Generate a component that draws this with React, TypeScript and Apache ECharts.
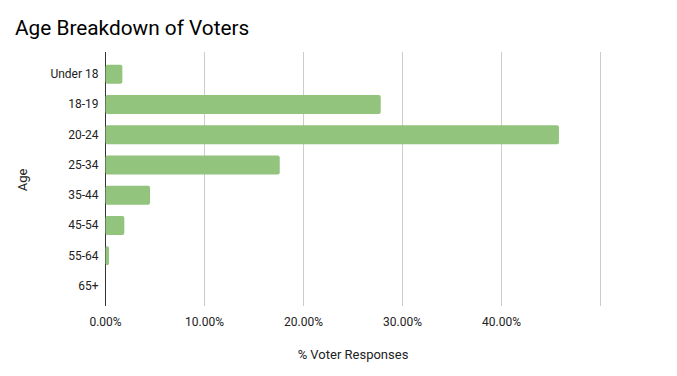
import React, { useEffect, useRef } from "react";
import * as echarts from "echarts";

const title = "Age Breakdown of Voters";
const categories = ["Under 18", "18-19", "20-24", "25-34", "35-44", "45-54", "55-64", "65+"];
const values = [0.017, 0.278, 0.458, 0.176, 0.045, 0.019, 0.0035, 0];
const xTicks = [0, 0.1, 0.2, 0.3, 0.4, 0.5];
const xAxisName = "% Voter Responses";
const yAxisName = "Age";

export default function App() {
  const ref = useRef<HTMLDivElement>(null);
  useEffect(() => {
    const chart = echarts.init(ref.current!, undefined, { renderer: "svg" });
    const font = "Roboto";
    chart.setOption({
      animation: false,
      textStyle: { fontFamily: font },
      title: {
        text: title,
        left: 10,
        top: 12,
        textStyle: { fontFamily: font, fontSize: 20.8, fontWeight: "normal", color: "#000" },
      },
      grid: [
        { left: 105.5, right: 76.5, top: 52, bottom: 70, containLabel: false },
        { left: 105.5, right: 76.5, top: 59, bottom: 75, containLabel: false },
      ],
      xAxis: [
        {
          gridIndex: 0,
          type: "value",
          min: xTicks[0],
          max: xTicks[xTicks.length - 1],
          interval: 0.1,
          axisLine: { show: false },
          axisTick: { show: false },
          splitLine: {
            show: true,
            lineStyle: { color: ["#333333", "#cccccc", "#cccccc", "#cccccc", "#cccccc", "#cccccc"], width: 1 },
          },
          axisLabel: {
            margin: 10,
            fontSize: 12,
            color: "#222",
            fontFamily: font,
            formatter: (v: number) => (v >= 0.5 ? "" : (v * 100).toFixed(2) + "%"),
          },
          name: xAxisName,
          nameLocation: "middle",
          nameGap: 42,
          nameTextStyle: { fontSize: 13, color: "#222", fontFamily: font },
        },
        {
          gridIndex: 1,
          type: "value",
          min: xTicks[0],
          max: xTicks[xTicks.length - 1],
          show: false,
          splitLine: { show: false },
        },
      ],
      yAxis: [
        {
          gridIndex: 0,
          type: "value",
          show: false,
          splitLine: { show: false },
        },
        {
          gridIndex: 1,
          type: "category",
          data: categories,
          inverse: true,
          axisLine: { show: false },
          axisTick: { show: false },
          axisLabel: { margin: 7, fontSize: 12, color: "#222", fontFamily: font },
          name: yAxisName,
          nameLocation: "middle",
          nameGap: 77,
          nameTextStyle: { fontSize: 13, color: "#222", fontFamily: font },
        },
      ],
      series: [
        {
          type: "bar",
          xAxisIndex: 1,
          yAxisIndex: 1,
          data: values,
          barWidth: 19,
          itemStyle: { color: "#93c47d", borderRadius: 2 },
        },
      ],
    });
    return () => chart.dispose();
  }, []);
  return <div ref={ref} style={{ width: 677, height: 376, position: "absolute", left: 0, top: 0 }} />;
}
